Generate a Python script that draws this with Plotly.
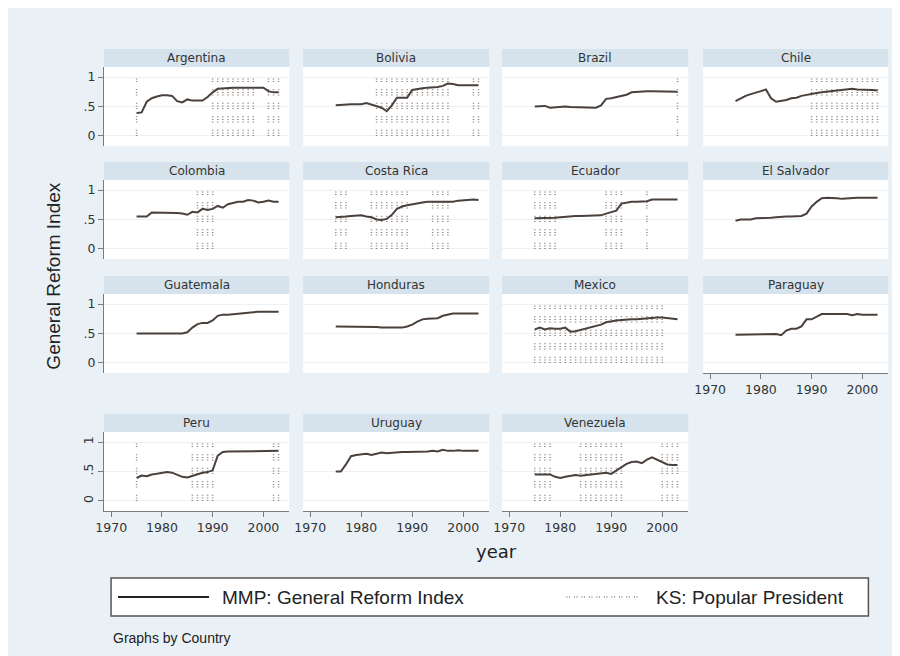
import plotly.graph_objects as go

years = [1975, 1976, 1977, 1978, 1979, 1980, 1981, 1982, 1983, 1984,
         1985, 1986, 1987, 1988, 1989, 1990, 1991, 1992, 1993, 1994,
         1995, 1996, 1997, 1998, 1999, 2000, 2001, 2002, 2003]

countries = ["Argentina", "Bolivia", "Brazil", "Chile", "Colombia", "Costa Rica",
             "Ecuador", "El Salvador", "Guatemala", "Honduras", "Mexico",
             "Paraguay", "Peru", "Uruguay", "Venezuela"]

# MMP: General Reform Index, 1975-2003
reform_argentina = [0.39, 0.40, 0.58, 0.64, 0.67, 0.69, 0.69, 0.68, 0.59, 0.57, 0.62, 0.60, 0.60, 0.60, 0.66,
                    0.74, 0.80, 0.81, 0.81, 0.82, 0.82, 0.82, 0.81, 0.81, 0.82, 0.82, 0.76, 0.74, 0.74]
reform_bolivia = [0.52, 0.53, 0.53, 0.54, 0.54, 0.54, 0.56, 0.53, 0.51, 0.48, 0.42, 0.52, 0.65, 0.65, 0.65,
                  0.78, 0.80, 0.81, 0.82, 0.82, 0.83, 0.85, 0.89, 0.88, 0.86, 0.86, 0.86, 0.86, 0.86]
reform_brazil = [0.50, 0.51, 0.51, 0.48, 0.49, 0.50, 0.50, 0.49, 0.49, 0.48, 0.48, 0.48, 0.48, 0.52, 0.63,
                 0.64, 0.66, 0.68, 0.70, 0.74, 0.75, 0.75, 0.76, 0.76, 0.76, 0.75, 0.76, 0.76, 0.75]
reform_chile = [0.59, 0.64, 0.68, 0.71, 0.73, 0.76, 0.79, 0.64, 0.58, 0.59, 0.61, 0.64, 0.65, 0.68, 0.70,
                0.72, 0.73, 0.74, 0.75, 0.75, 0.76, 0.78, 0.79, 0.80, 0.79, 0.79, 0.79, 0.78, 0.77]
reform_colombia = [0.55, 0.55, 0.55, 0.62, 0.62, 0.62, 0.62, 0.62, 0.61, 0.60, 0.58, 0.63, 0.62, 0.68, 0.66,
                   0.68, 0.73, 0.70, 0.76, 0.78, 0.80, 0.80, 0.83, 0.82, 0.79, 0.80, 0.82, 0.80, 0.80]
reform_costa_rica = [0.54, 0.54, 0.55, 0.56, 0.56, 0.57, 0.55, 0.54, 0.50, 0.49, 0.51, 0.58, 0.68, 0.72, 0.74,
                     0.76, 0.77, 0.79, 0.80, 0.80, 0.80, 0.79, 0.79, 0.80, 0.82, 0.83, 0.83, 0.84, 0.83]
reform_ecuador = [0.52, 0.52, 0.52, 0.52, 0.53, 0.54, 0.55, 0.55, 0.56, 0.56, 0.56, 0.56, 0.56, 0.57, 0.60,
                  0.63, 0.65, 0.77, 0.79, 0.80, 0.80, 0.81, 0.81, 0.84, 0.84, 0.84, 0.84, 0.84, 0.84]
reform_el_salvador = [0.48, 0.50, 0.50, 0.50, 0.52, 0.52, 0.52, 0.53, 0.54, 0.55, 0.55, 0.55, 0.55, 0.56, 0.60,
                      0.72, 0.80, 0.86, 0.87, 0.87, 0.86, 0.85, 0.86, 0.86, 0.87, 0.87, 0.87, 0.87, 0.87]
reform_guatemala = [0.50, 0.50, 0.50, 0.50, 0.50, 0.50, 0.50, 0.50, 0.50, 0.50, 0.52, 0.60, 0.66, 0.68, 0.68,
                    0.72, 0.80, 0.82, 0.82, 0.83, 0.83, 0.85, 0.85, 0.87, 0.87, 0.87, 0.87, 0.87, 0.87]
reform_honduras = [0.62, 0.62, 0.62, 0.62, 0.62, 0.62, 0.62, 0.62, 0.61, 0.60, 0.60, 0.60, 0.60, 0.60, 0.62,
                   0.65, 0.70, 0.74, 0.75, 0.76, 0.76, 0.80, 0.82, 0.84, 0.84, 0.84, 0.84, 0.84, 0.84]
reform_mexico = [0.57, 0.60, 0.57, 0.59, 0.58, 0.58, 0.60, 0.53, 0.54, 0.56, 0.58, 0.61, 0.63, 0.65, 0.69,
                 0.71, 0.72, 0.73, 0.74, 0.74, 0.74, 0.75, 0.76, 0.77, 0.77, 0.77, 0.76, 0.75, 0.74]
reform_paraguay = [0.48, 0.48, 0.48, 0.49, 0.49, 0.49, 0.49, 0.49, 0.49, 0.47, 0.55, 0.58, 0.58, 0.62, 0.74,
                   0.74, 0.79, 0.83, 0.83, 0.83, 0.83, 0.83, 0.83, 0.81, 0.83, 0.82, 0.82, 0.82, 0.82]
reform_peru = [0.39, 0.43, 0.42, 0.45, 0.46, 0.47, 0.49, 0.48, 0.44, 0.41, 0.40, 0.43, 0.46, 0.48, 0.49,
               0.52, 0.77, 0.83, 0.84, 0.84, 0.84, 0.84, 0.85, 0.85, 0.85, 0.85, 0.84, 0.85, 0.85]
reform_uruguay = [0.50, 0.50, 0.62, 0.76, 0.78, 0.79, 0.80, 0.78, 0.80, 0.82, 0.81, 0.82, 0.82, 0.83, 0.83,
                  0.83, 0.84, 0.83, 0.84, 0.85, 0.84, 0.87, 0.85, 0.85, 0.86, 0.85, 0.85, 0.85, 0.85]
reform_venezuela = [0.45, 0.45, 0.45, 0.45, 0.41, 0.39, 0.41, 0.43, 0.44, 0.43, 0.44, 0.46, 0.46, 0.47, 0.48,
                    0.46, 0.52, 0.58, 0.63, 0.66, 0.67, 0.64, 0.70, 0.74, 0.70, 0.65, 0.62, 0.61, 0.61]

# KS: Popular President (years in which the president was popular)
popular_argentina = [1975, 1990, 1991, 1992, 1993, 1994, 1995, 1996, 1997, 1998, 2001, 2002, 2003]
popular_bolivia = [1983, 1984, 1985, 1986, 1987, 1988, 1989, 1990, 1991, 1992, 1993, 1994, 1995, 1996, 1997,
                   2002, 2003]
popular_brazil = [2003]
popular_chile = [1990, 1991, 1992, 1993, 1994, 1995, 1996, 1997, 1998, 1999, 2000, 2001, 2002, 2003]
popular_colombia = [1987, 1988, 1989, 1990]
popular_costa_rica = [1975, 1976, 1977, 1982, 1983, 1984, 1985, 1986, 1987, 1988, 1989, 1994, 1995, 1996, 1997]
popular_ecuador = [1975, 1976, 1977, 1978, 1979, 1989, 1990, 1991, 1992, 1997]
popular_el_salvador = []
popular_guatemala = []
popular_honduras = []
popular_mexico = [1975, 1976, 1977, 1978, 1979, 1980, 1981, 1982, 1983, 1984, 1985, 1986, 1987, 1988, 1989,
                  1990, 1991, 1992, 1993, 1994, 1995, 1996, 1997, 1998, 1999, 2000]
popular_paraguay = []
popular_peru = [1975, 1986, 1987, 1988, 1989, 1990, 2002, 2003]
popular_uruguay = []
popular_venezuela = [1975, 1976, 1977, 1978, 1984, 1985, 1986, 1987, 1988, 1989, 1990, 1991, 1992,
                     2000, 2001, 2002, 2003]

x_ticks = [1970, 1980, 1990, 2000]
y_ticks = [0, 0.5, 1]
y_ticktext = ["0", ".5", "1"]

reform_series = [reform_argentina, reform_bolivia, reform_brazil, reform_chile, reform_colombia,
                 reform_costa_rica, reform_ecuador, reform_el_salvador, reform_guatemala, reform_honduras,
                 reform_mexico, reform_paraguay, reform_peru, reform_uruguay, reform_venezuela]
popular_series = [popular_argentina, popular_bolivia, popular_brazil, popular_chile, popular_colombia,
                  popular_costa_rica, popular_ecuador, popular_el_salvador, popular_guatemala, popular_honduras,
                  popular_mexico, popular_paraguay, popular_peru, popular_uruguay, popular_venezuela]

W, H = 900, 656
BG = "#e9f1f6"
BAND = "#d6e3ec"
LINE_COL = "#4a403c"
DOT_COL = "#8f8580"
TXT = "#333333"
TICKFONT = dict(family="DejaVu Sans", size=12.5, color=TXT)

col_px = [(88, 275), (289, 477), (490, 678), (693, 880)]
row_px = [(59, 138), (172, 251), (286, 365), (424, 503)]
band_h = 18

fig = go.Figure()
layout = {}
shapes = []
annotations = []

for i, name in enumerate(countries):
    r, c = divmod(i, 4)
    sfx = "" if i == 0 else str(i + 1)
    xa, ya = "x" + sfx, "y" + sfx
    x0, x1 = col_px[c]
    y0, y1 = row_px[r]

    pop = popular_series[i]
    xs, ys = [], []
    for yr in pop:
        xs += [yr, yr, None]
        ys += [0, 1, None]
    if xs:
        fig.add_trace(go.Scatter(
            x=xs, y=ys, mode="lines", xaxis=xa, yaxis=ya, showlegend=False,
            hoverinfo="skip",
            line=dict(color=DOT_COL, width=1.5, dash="1px,1.6px,1px,1.6px,1px,7.3px")))
    fig.add_trace(go.Scatter(
        x=years, y=reform_series[i], mode="lines", xaxis=xa, yaxis=ya, showlegend=False,
        line=dict(color=LINE_COL, width=2)))

    show_x = (r == 3) or (i == 11)
    show_y = (c == 0)
    layout["xaxis" + sfx] = dict(
        domain=[x0 / W, x1 / W], anchor=ya, range=[1968.6, 2005.1],
        showgrid=False, zeroline=False, showline=show_x, linecolor="#7a7a7a", linewidth=1.2,
        ticks="outside" if show_x else "", ticklen=5, tickcolor="#7a7a7a",
        tickvals=x_ticks, showticklabels=show_x, tickfont=TICKFONT, fixedrange=True)
    layout["yaxis" + sfx] = dict(
        domain=[1 - y1 / H, 1 - y0 / H], anchor=xa, range=[-0.17, 1.17],
        tickvals=y_ticks, ticktext=y_ticktext, showgrid=True, gridcolor="#eef1f3", gridwidth=1,
        zeroline=False, showline=show_y, linecolor="#7a7a7a", linewidth=1.2,
        ticks="outside" if show_y else "", ticklen=5, tickcolor="#7a7a7a",
        showticklabels=show_y, tickfont=TICKFONT, tickangle=-90 if r == 3 else 0, fixedrange=True)

    shapes.append(dict(type="rect", xref="paper", yref="paper",
                       x0=x0 / W, x1=x1 / W, y0=1 - y0 / H, y1=1 - (y0 - band_h) / H,
                       fillcolor=BAND, line=dict(width=0), layer="below"))
    annotations.append(dict(text=name, xref="paper", yref="paper",
                            x=(x0 + x1) / 2 / W, y=1 - (y0 - band_h / 2) / H,
                            xanchor="center", yanchor="middle", showarrow=False,
                            font=dict(family="DejaVu Sans", size=12, color=TXT)))

# axis titles
annotations.append(dict(text="year", xref="paper", yref="paper", x=484 / W, y=1 - 543 / H,
                        xanchor="center", yanchor="middle", showarrow=False,
                        font=dict(family="DejaVu Sans", size=18, color="#222")))
annotations.append(dict(text="General Reform Index", xref="paper", yref="paper", x=37 / W, y=1 - 268 / H,
                        xanchor="center", yanchor="middle", showarrow=False, textangle=-90,
                        font=dict(family="Liberation Sans", size=19, color="#222")))

# legend (box, samples, labels)
shapes.append(dict(type="rect", xref="paper", yref="paper", x0=95 / W, x1=860 / W,
                   y0=1 - 608 / H, y1=1 - 570 / H, fillcolor="white",
                   line=dict(color="#555", width=1.5)))
shapes.append(dict(type="line", xref="paper", yref="paper", x0=102 / W, x1=194 / W,
                   y0=1 - 589 / H, y1=1 - 589 / H, line=dict(color="#222", width=2)))
shapes.append(dict(type="line", xref="paper", yref="paper", x0=555 / W, x1=630 / W,
                   y0=1 - 589 / H, y1=1 - 589 / H,
                   line=dict(color=DOT_COL, width=1.5, dash="1px,1.5px,1px,4px")))
annotations.append(dict(text="MMP: General Reform Index", xref="paper", yref="paper", x=205 / W,
                        y=1 - 589 / H, xanchor="left", yanchor="middle", showarrow=False,
                        font=dict(family="Liberation Sans", size=19, color="#222")))
annotations.append(dict(text="KS: Popular President", xref="paper", yref="paper", x=643 / W,
                        y=1 - 589 / H, xanchor="left", yanchor="middle", showarrow=False,
                        font=dict(family="Liberation Sans", size=19, color="#222")))
annotations.append(dict(text="Graphs by Country", xref="paper", yref="paper", x=95 / W,
                        y=1 - 630 / H, xanchor="left", yanchor="middle", showarrow=False,
                        font=dict(family="Liberation Sans", size=14, color="#222")))

fig.update_layout(
    width=W, height=H, margin=dict(l=0, r=0, t=0, b=0),
    paper_bgcolor=BG, plot_bgcolor="white", showlegend=False,
    shapes=shapes, annotations=annotations, **layout)

fig.write_html("out.html")
